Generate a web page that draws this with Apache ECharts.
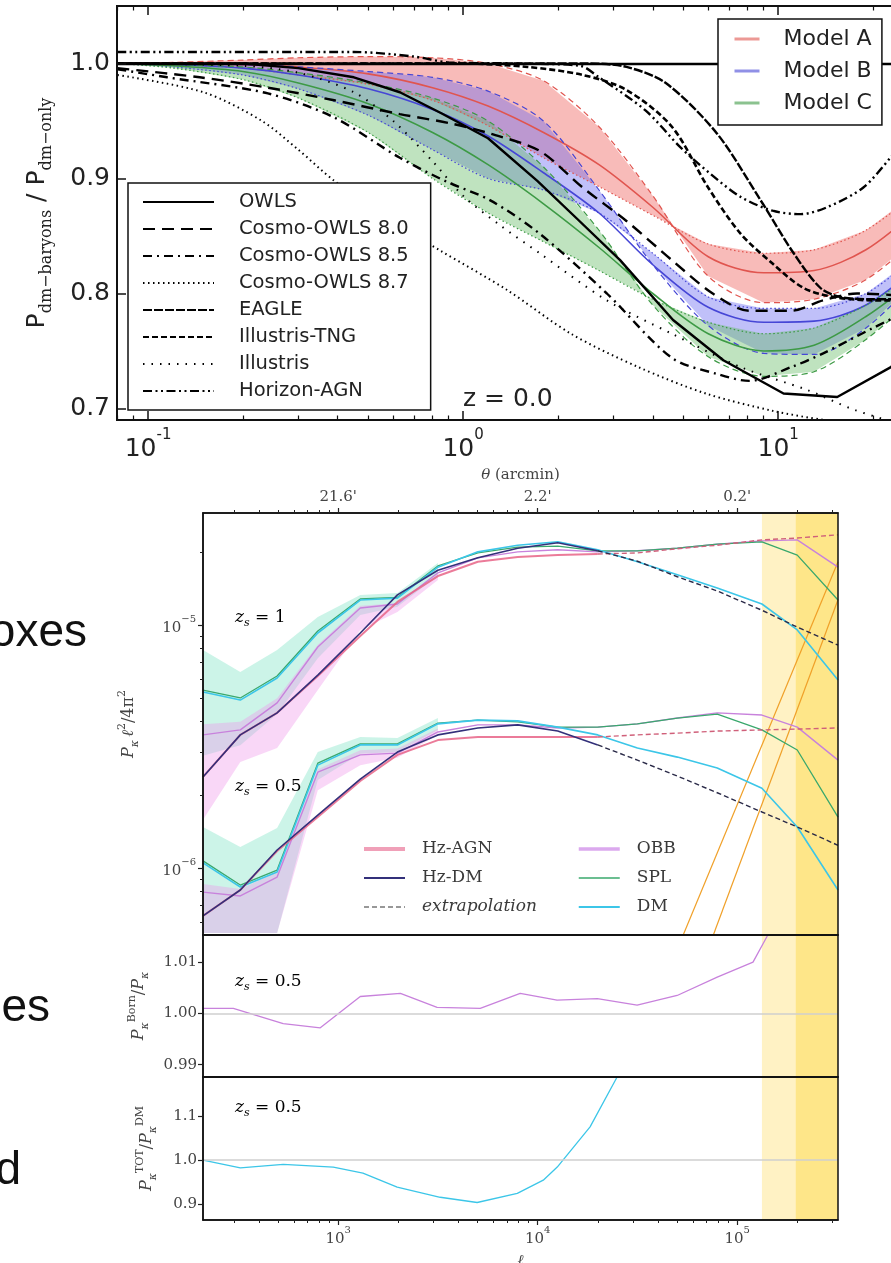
<!DOCTYPE html>
<html><head><meta charset="utf-8">
<script src="https://cdn.jsdelivr.net/npm/echarts@6/dist/echarts.min.js"></script>
<style>html,body{margin:0;padding:0;background:#fff;}#chart{width:891px;height:1263px;}</style>
</head><body><div id="chart"></div>
<script>
// ---------------- TOP CHART DATA (theta in arcmin, ratio) ----------------
const owlsTheta = [0.08, 0.2, 0.3, 0.45, 0.63, 0.85, 1.2, 1.72, 2.3, 3.15, 4.64, 6.7, 10.4, 15.4, 22.8, 28.2];
const owlsRatio = [1.0, 1.0, 0.996, 0.988, 0.975, 0.957, 0.935, 0.898, 0.865, 0.829, 0.777, 0.742, 0.713, 0.710, 0.736, 0.76];
const cosmo80Theta = [0.08, 0.146, 0.24, 0.39, 0.63, 0.91, 1.22, 1.75, 2.4, 3.3, 4.6, 6.2, 8.1, 11, 13.9, 17.8, 28.2];
const cosmo80Ratio = [0.996, 0.988, 0.979, 0.968, 0.956, 0.948, 0.939, 0.924, 0.892, 0.863, 0.829, 0.80, 0.785, 0.785, 0.794, 0.80, 0.797];
const cosmo85Theta = [0.08, 0.115, 0.24, 0.39, 0.63, 0.89, 1.22, 1.75, 2.86, 4.6, 6.4, 8.1, 11, 13.9, 20, 28.2];
const cosmo85Ratio = [0.995, 0.988, 0.974, 0.953, 0.918, 0.897, 0.881, 0.852, 0.80, 0.744, 0.73, 0.724, 0.736, 0.748, 0.77, 0.79];
const cosmo87Theta = [0.08, 0.15, 0.23, 0.3, 0.39, 0.6, 0.85, 1.38, 2.2, 3.6, 5.9, 9.6, 14, 20, 28.2];
const cosmo87Ratio = [0.99, 0.975, 0.95, 0.925, 0.898, 0.862, 0.837, 0.803, 0.765, 0.736, 0.713, 0.698, 0.69, 0.685, 0.68];
const eagleTheta = [0.08, 1.0, 2.5, 3.3, 4.4, 6.4, 8.8, 11.2, 13.6, 15.7, 20, 28.2];
const eagleRatio = [1.0, 1.0, 1.0, 0.997, 0.983, 0.939, 0.881, 0.835, 0.805, 0.797, 0.795, 0.795];
const tngTheta = [0.08, 1.0, 1.6, 2.4, 3.3, 4.6, 6.0, 7.6, 9.6, 12, 15, 20, 28.2];
const tngRatio = [1.0, 1.0, 0.997, 0.99, 0.977, 0.945, 0.892, 0.852, 0.826, 0.805, 0.797, 0.794, 0.794];
const illTheta = [0.08, 0.2, 0.3, 0.45, 0.6, 0.8, 1.0, 1.3, 1.75, 2.86, 4.6, 7.6, 12.4, 17, 22];
const illRatio = [1.0, 0.998, 0.992, 0.975, 0.95, 0.915, 0.885, 0.86, 0.835, 0.794, 0.765, 0.736, 0.716, 0.70, 0.69];
const horizonTheta = [0.08, 0.45, 0.7, 0.9, 1.5, 2.35, 2.7, 3.8, 4.9, 6.1, 7.6, 9.6, 11.8, 14.3, 18.6, 22.7, 28.2];
const horizonRatio = [1.01, 1.01, 1.006, 1.001, 1.0, 0.998, 0.988, 0.959, 0.927, 0.904, 0.884, 0.872, 0.869, 0.875, 0.892, 0.918, 0.95];

const modelTheta = [0.08, 0.12, 0.2, 0.3, 0.5, 0.8, 1.2, 1.8, 2.7, 4, 6, 9, 13, 19, 28.2];
const modelAMedian = [1.0, 1.0, 0.999, 0.997, 0.991, 0.979, 0.963, 0.94, 0.912, 0.875, 0.832, 0.818, 0.82, 0.838, 0.875];
const modelADashed = [1.0, 1.001, 1.003, 1.005, 1.006, 1.005, 1.0, 0.985, 0.945, 0.885, 0.815, 0.792, 0.795, 0.812, 0.85];
const modelADotted = [1.0, 0.999, 0.996, 0.99, 0.982, 0.968, 0.946, 0.918, 0.893, 0.868, 0.843, 0.835, 0.838, 0.855, 0.89];
const modelBMedian = [1.0, 0.999, 0.996, 0.99, 0.978, 0.96, 0.937, 0.905, 0.87, 0.825, 0.788, 0.775, 0.776, 0.79, 0.825];
const modelBDashed = [1.0, 1.0, 0.999, 0.997, 0.993, 0.988, 0.976, 0.95, 0.89, 0.825, 0.772, 0.748, 0.747, 0.77, 0.815];
const modelBDotted = [1.0, 0.997, 0.99, 0.978, 0.955, 0.925, 0.9, 0.89, 0.87, 0.835, 0.797, 0.787, 0.787, 0.80, 0.835];
const modelCMedian = [1.0, 0.998, 0.993, 0.983, 0.965, 0.94, 0.912, 0.878, 0.84, 0.80, 0.765, 0.75, 0.755, 0.78, 0.815];
const modelCDashed = [1.0, 0.999, 0.997, 0.992, 0.983, 0.97, 0.95, 0.91, 0.855, 0.79, 0.745, 0.728, 0.732, 0.76, 0.8];
const modelCDotted = [1.0, 0.996, 0.986, 0.97, 0.94, 0.9, 0.87, 0.845, 0.82, 0.795, 0.775, 0.765, 0.77, 0.79, 0.82];

const topMajorTicks = [0.1, 1, 10];
const topMinorTicks = [0.08, 0.09, 0.2, 0.3, 0.4, 0.5, 0.6, 0.7, 0.8, 0.9, 2, 3, 4, 5, 6, 7, 8, 9, 20];
const ratioTicks = [0.7, 0.8, 0.9, 1.0];

// ---------------- BOTTOM CHART DATA (ell, P_kappa ell^2/4pi^2) ----------------
const ellGrid = [210, 323, 494, 790, 1290, 1980, 3160, 5010, 7940, 12600, 20000, 31600, 50100, 79400, 133000, 200000, 320000];
const hzDM1 = [2.37e-6, 3.53e-6, 4.35e-6, 6.22e-6, 9.27e-6, 1.33e-5, 1.68e-5, 1.89e-5, 2.07e-5, 2.18e-5, 2.02e-5, 1.83e-5, 1.58e-5, 1.38e-5, 1.15e-5, 9.8e-6, 8.27e-6];
const hzAGN1 = [2.37e-6, 3.53e-6, 4.35e-6, 6.17e-6, 9.01e-6, 1.244e-5, 1.59e-5, 1.82e-5, 1.905e-5, 1.94e-5, 1.96e-5, 1.98e-5, 2.06e-5, 2.13e-5, 2.24e-5, 2.28e-5, 2.35e-5];
const dm1 = [5.30e-6, 4.91e-6, 6.05e-6, 9.27e-6, 1.267e-5, 1.29e-5, 1.73e-5, 2.00e-5, 2.13e-5, 2.20e-5, 2.04e-5, 1.82e-5, 1.61e-5, 1.42e-5, 1.22e-5, 9.54e-6, 5.94e-6];
const spl1 = [5.40e-6, 5.01e-6, 6.17e-6, 9.45e-6, 1.28e-5, 1.30e-5, 1.75e-5, 1.98e-5, 2.09e-5, 2.11e-5, 2.02e-5, 2.02e-5, 2.07e-5, 2.15e-5, 2.20e-5, 1.94e-5, 1.267e-5];
const obb1 = [3.53e-6, 3.70e-6, 4.78e-6, 8.12e-6, 1.175e-5, 1.22e-5, 1.64e-5, 1.89e-5, 2.00e-5, 2.04e-5, 2.00e-5, 2.02e-5, 2.07e-5, 2.15e-5, 2.22e-5, 2.24e-5, 1.73e-5];
const hzDM05 = [6.35e-7, 8.12e-7, 1.186e-6, 1.65e-6, 2.32e-6, 3.00e-6, 3.53e-6, 3.77e-6, 3.88e-6, 3.66e-6, 3.21e-6, 2.78e-6, 2.39e-6, 2.04e-6, 1.70e-6, 1.475e-6, 1.24e-6];
const hzAGN05 = [6.35e-7, 8.12e-7, 1.175e-6, 1.62e-6, 2.28e-6, 2.92e-6, 3.36e-6, 3.46e-6, 3.46e-6, 3.46e-6, 3.46e-6, 3.53e-6, 3.59e-6, 3.66e-6, 3.70e-6, 3.73e-6, 3.77e-6];
const dm05 = [1.05e-6, 8.35e-7, 9.63e-7, 2.65e-6, 3.21e-6, 3.21e-6, 3.92e-6, 4.06e-6, 4.03e-6, 3.80e-6, 3.53e-6, 3.12e-6, 2.86e-6, 2.58e-6, 2.13e-6, 1.475e-6, 8.12e-7];
const spl05 = [1.07e-6, 8.51e-7, 9.81e-7, 2.70e-6, 3.24e-6, 3.24e-6, 3.95e-6, 4.06e-6, 3.99e-6, 3.80e-6, 3.80e-6, 3.92e-6, 4.14e-6, 4.30e-6, 3.70e-6, 3.06e-6, 1.62e-6];
const obb05 = [7.96e-7, 7.67e-7, 9.18e-7, 2.48e-6, 2.92e-6, 2.97e-6, 3.63e-6, 3.88e-6, 3.88e-6, 3.77e-6, 3.80e-6, 3.92e-6, 4.14e-6, 4.35e-6, 4.26e-6, 3.80e-6, 2.78e-6];
const extrapStart = 10; // index from which Hz curves are extrapolated

const bandEll = [210, 323, 494, 790, 1290, 1980, 3160];
const mintUpper1 = [7.89e-6, 6.41e-6, 7.89e-6, 1.08e-5, 1.33e-5, 1.355e-5, 1.80e-5];
const mintLower1 = [2.9e-6, 3.2e-6, 4.3e-6, 7.3e-6, 1.1e-5, 1.19e-5, 1.6e-5];
const pinkUpper1 = [3.9e-6, 4.0e-6, 5.0e-6, 8.3e-6, 1.2e-5, 1.23e-5, 1.65e-5];
const pinkLower1 = [1.58e-6, 2.73e-6, 3.12e-6, 5.40e-6, 9.54e-6, 1.13e-5, 1.53e-5];
const mintUpper05 = [1.475e-6, 1.22e-6, 1.46e-6, 3.00e-6, 3.46e-6, 3.43e-6, 4.14e-6];
const mintLower05 = [5.4e-7, 5.4e-7, 5.4e-7, 2.30e-6, 2.95e-6, 3.0e-6, 3.7e-6];
const pinkUpper05 = [8.6e-7, 8.2e-7, 9.6e-7, 2.55e-6, 3.05e-6, 3.1e-6, 3.75e-6];
const pinkLower05 = [5.4e-7, 5.4e-7, 5.4e-7, 2.09e-6, 2.65e-6, 2.84e-6, 3.53e-6];

const orangeEll1 = [53600, 320000];
const orangeP1 = [5.3e-7, 1.82e-5];
const orangeEll2 = [75900, 320000];
const orangeP2 = [5.3e-7, 1.27e-5];

const bornEll = [210, 298, 530, 813, 1290, 2050, 3130, 5150, 8170, 12500, 19900, 31500, 50000, 79400, 120000, 141000, 184000];
const bornRatio = [1.0010, 1.0010, 0.9980, 0.9972, 1.0033, 1.0039, 1.0012, 1.0010, 1.0039, 1.0026, 1.0029, 1.0016, 1.0035, 1.0071, 1.0100, 1.0150, 1.0300];
const totEll = [210, 323, 530, 945, 1330, 1975, 3245, 4970, 7900, 10660, 12530, 18300, 25000];
const totRatio = [1.0, 0.982, 0.99, 0.984, 0.970, 0.938, 0.915, 0.903, 0.924, 0.954, 0.984, 1.076, 1.19];

const yellowLight = [133000, 196000];
const yellowDark = [196000, 320000];

const ellMajorTicks = [1000, 10000, 100000];
const ellMinorTicks = [300, 400, 500, 600, 700, 800, 900, 2000, 3000, 4000, 5000, 6000, 7000, 8000, 9000, 20000, 30000, 40000, 50000, 60000, 70000, 80000, 90000, 200000, 300000];
const ellTopLabels = ["21.6'", "2.2'", "0.2'"];
const powerMajorTicks = [1e-6, 1e-5];
const powerMinorTicks = [6e-7, 7e-7, 8e-7, 9e-7, 2e-6, 3e-6, 4e-6, 5e-6, 6e-6, 7e-6, 8e-6, 9e-6, 2e-5];
const bornTicks = [0.99, 1.00, 1.01];
const totTicks = [0.9, 1.0, 1.1];

// ---------------- helpers ----------------
const SANS = 'DejaVu Sans';
const SERIF = 'DejaVu Serif';
function pairs(xs, ys) { return xs.map((x, i) => [x, ys[i]]); }
function band(xi, yi, xs, up, lo, color) {
  return {
    type: 'custom', xAxisIndex: xi, yAxisIndex: yi, clip: true, silent: true, z: 1,
    data: [[xs[0], up[0]]],
    renderItem: function (params, api) {
      const pts = [];
      for (let i = 0; i < xs.length; i++) pts.push(api.coord([xs[i], up[i]]));
      for (let i = xs.length - 1; i >= 0; i--) pts.push(api.coord([xs[i], lo[i]]));
      return { type: 'polygon', shape: { points: pts }, style: { fill: color } };
    }
  };
}
function simLine(name, xs, ys, dash, width, smooth) {
  return { name: name, type: 'line', xAxisIndex: 0, yAxisIndex: 0, data: pairs(xs, ys), symbol: 'none',
    smooth: smooth === undefined ? 0.3 : smooth, silent: true, z: 4,
    itemStyle: { color: '#000' },
    lineStyle: { color: '#000', width: width || 2.4, type: dash } };
}
function modelLine(name, ys, color, dash, width, z) {
  return { name: name, type: 'line', xAxisIndex: 0, yAxisIndex: 0, data: pairs(modelTheta, ys), symbol: 'none',
    smooth: 0.3, silent: true, z: z || 3, itemStyle: { color: color }, lineStyle: { color: color, width: width, type: dash } };
}
function bLine(name, xs, ys, color, width, dash, xi, yi, z) {
  return { name: name, type: 'line', xAxisIndex: xi, yAxisIndex: yi, data: pairs(xs, ys), symbol: 'none',
    silent: true, z: z || 3, itemStyle: { color: color }, lineStyle: { color: color, width: width, type: dash || 'solid' } };
}
function pow10Top(v) { const e = Math.round(Math.log10(v)); return '{b|10}{s|' + (e < 0 ? '-' + (-e) : e) + '}'; }
function pow10Bot(v) { const e = Math.round(Math.log10(v)); return '{b|10}{s|' + (e < 0 ? '\u2212' + (-e) : e) + '}'; }

const topRich = { b: { fontFamily: SANS, fontSize: 25, color: '#222', lineHeight: 34, verticalAlign: 'bottom' },
                  s: { fontFamily: SANS, fontSize: 15, color: '#222', lineHeight: 12, verticalAlign: 'top' } };
const botRich = { b: { fontFamily: SERIF, fontSize: 15, color: '#444', lineHeight: 22, verticalAlign: 'bottom' },
                  s: { fontFamily: SERIF, fontSize: 10, color: '#444', lineHeight: 8, verticalAlign: 'top' } };
const nameRich = {
  i: { fontFamily: SERIF, fontStyle: 'italic', fontSize: 16, color: '#444', lineHeight: 24 },
  n: { fontFamily: SERIF, fontSize: 16, color: '#444', lineHeight: 24 },
  sub: { fontFamily: SERIF, fontStyle: 'italic', fontSize: 11, color: '#444', lineHeight: 10, verticalAlign: 'bottom' },
  sup: { fontFamily: SERIF, fontSize: 11, color: '#444', lineHeight: 10, verticalAlign: 'top' }
};
const thetaNameRich = {
  i: { fontFamily: SERIF, fontStyle: 'italic', fontSize: 15, color: '#444', lineHeight: 16 },
  n: { fontFamily: SERIF, fontSize: 15, color: '#444', lineHeight: 16 }
};

const thetaMin = 0.0797, thetaMax = 28.2;
const ellMin = 210, ellMax = 320000;
const pMin = 5.3e-7, pMax = 2.89e-5;

const blk = { color: '#111', width: 2 };
const blkB = { color: '#111', width: 1.5 };

const xAxes = [
  // 0: top chart bottom (major + labels)
  { gridIndex: 0, type: 'log', min: thetaMin, max: thetaMax, position: 'bottom', z: 10,
    axisLine: { show: true, onZero: false, lineStyle: blk },
    axisTick: { show: true, inside: true, length: 9, lineStyle: { color: '#111', width: 1.5 }, customValues: topMajorTicks },
    axisLabel: { show: true, customValues: topMajorTicks, margin: 8, formatter: pow10Top, rich: topRich },
    splitLine: { show: false } },
  // 1: top chart bottom minor
  { gridIndex: 0, type: 'log', min: thetaMin, max: thetaMax, position: 'bottom', z: 10,
    axisLine: { show: false }, axisTick: { show: true, inside: true, length: 4.5, lineStyle: { color: '#111', width: 1.2 }, customValues: topMinorTicks },
    axisLabel: { show: false }, splitLine: { show: false } },
  // 2: top chart top major
  { gridIndex: 0, type: 'log', min: thetaMin, max: thetaMax, position: 'top', z: 10,
    axisLine: { show: true, onZero: false, lineStyle: blk },
    axisTick: { show: true, inside: true, length: 9, lineStyle: { color: '#111', width: 1.5 }, customValues: topMajorTicks },
    axisLabel: { show: false }, splitLine: { show: false } },
  // 3: top chart top minor
  { gridIndex: 0, type: 'log', min: thetaMin, max: thetaMax, position: 'top', z: 10,
    axisLine: { show: false }, axisTick: { show: true, inside: true, length: 4.5, lineStyle: { color: '#111', width: 1.2 }, customValues: topMinorTicks },
    axisLabel: { show: false }, splitLine: { show: false } },
  // 4: main panel bottom (data)
  { gridIndex: 1, type: 'log', min: ellMin, max: ellMax, position: 'bottom', z: 10,
    axisLine: { show: true, onZero: false, lineStyle: blkB }, axisTick: { show: false }, axisLabel: { show: false }, splitLine: { show: false } },
  // 5: main panel top major with labels
  { gridIndex: 1, type: 'log', min: ellMin, max: ellMax, position: 'top', z: 10,
    name: '{i|\u03b8}{n| (arcmin)}', nameLocation: 'middle', nameGap: 30,
    nameTextStyle: { rich: thetaNameRich },
    axisLine: { show: true, onZero: false, lineStyle: blkB },
    axisTick: { show: true, length: 5, lineStyle: { color: '#222', width: 1.2 }, customValues: ellMajorTicks },
    axisLabel: { show: true, customValues: ellMajorTicks, margin: 8, fontFamily: SERIF, fontSize: 15, color: '#444',
      formatter: function (v) { return ellTopLabels[Math.round(Math.log10(v)) - 3]; } },
    splitLine: { show: false } },
  // 6: main panel top minor
  { gridIndex: 1, type: 'log', min: ellMin, max: ellMax, position: 'top', z: 10,
    axisLine: { show: false }, axisTick: { show: true, length: 3, lineStyle: { color: '#222', width: 1 }, customValues: ellMinorTicks },
    axisLabel: { show: false }, splitLine: { show: false } },
  // 7: panel 2 bottom (data)
  { gridIndex: 2, type: 'log', min: ellMin, max: ellMax, position: 'bottom', z: 10,
    axisLine: { show: true, onZero: false, lineStyle: blkB }, axisTick: { show: false }, axisLabel: { show: false }, splitLine: { show: false } },
  // 8: panel 3 bottom major with labels (data)
  { gridIndex: 3, type: 'log', min: ellMin, max: ellMax, position: 'bottom', z: 10,
    name: '\u2113', nameLocation: 'middle', nameGap: 34,
    nameTextStyle: { fontFamily: SERIF, fontStyle: 'italic', fontSize: 15, color: '#444' },
    axisLine: { show: true, onZero: false, lineStyle: blkB },
    axisTick: { show: true, length: 5, lineStyle: { color: '#222', width: 1.2 }, customValues: ellMajorTicks },
    axisLabel: { show: true, customValues: ellMajorTicks, margin: 5, formatter: pow10Bot, rich: botRich },
    splitLine: { show: false } },
  // 9: panel 3 bottom minor
  { gridIndex: 3, type: 'log', min: ellMin, max: ellMax, position: 'bottom', z: 10,
    axisLine: { show: false }, axisTick: { show: true, length: 3, lineStyle: { color: '#222', width: 1 }, customValues: ellMinorTicks },
    axisLabel: { show: false }, splitLine: { show: false } }
];

const yAxes = [
  // 0: top chart
  { gridIndex: 0, type: 'value', min: 0.69, max: 1.05, position: 'left', z: 10,
    name: '{p|P}{sub|dm\u2212baryons}{p| / P}{sub|dm\u2212only}', nameLocation: 'middle', nameGap: 62,
    nameTextStyle: { rich: {
      p: { fontFamily: SANS, fontSize: 25, color: '#222', lineHeight: 30, verticalAlign: 'top' },
      sub: { fontFamily: SERIF, fontSize: 16, color: '#222', lineHeight: 14, verticalAlign: 'bottom' } } },
    axisLine: { show: true, onZero: false, lineStyle: blk },
    axisTick: { show: true, inside: true, length: 9, lineStyle: { color: '#111', width: 1.5 }, customValues: ratioTicks },
    axisLabel: { show: true, customValues: ratioTicks, margin: 7, fontFamily: SANS, fontSize: 25, color: '#222',
      formatter: function (v) { return v.toFixed(1); } },
    splitLine: { show: false } },
  // 1: main panel log major
  { gridIndex: 1, type: 'log', min: pMin, max: pMax, position: 'left', z: 10,
    name: '{i|P}{sub|\u03ba} {i|\u2113}{sup|2}{n|/4\u03c0}{sup|2}', nameLocation: 'middle', nameGap: 62,
    nameTextStyle: { rich: nameRich },
    axisLine: { show: true, onZero: false, lineStyle: blkB },
    axisTick: { show: true, length: 5, lineStyle: { color: '#222', width: 1.2 }, customValues: powerMajorTicks },
    axisLabel: { show: true, customValues: powerMajorTicks, margin: 7, formatter: pow10Bot, rich: botRich },
    splitLine: { show: false } },
  // 2: main panel log minor
  { gridIndex: 1, type: 'log', min: pMin, max: pMax, position: 'left', z: 10,
    axisLine: { show: false }, axisTick: { show: true, length: 3, lineStyle: { color: '#222', width: 1 }, customValues: powerMinorTicks },
    axisLabel: { show: false }, splitLine: { show: false } },
  // 3: panel 2
  { gridIndex: 2, type: 'value', min: 0.9876, max: 1.0153, position: 'left', z: 10,
    name: '{i|P}{sub|\u03ba}{sup|Born}{n|/}{i|P}{sub|\u03ba}', nameLocation: 'middle', nameGap: 52,
    nameTextStyle: { rich: nameRich },
    axisLine: { show: true, onZero: false, lineStyle: blkB },
    axisTick: { show: true, length: 5, lineStyle: { color: '#222', width: 1.2 }, customValues: bornTicks },
    axisLabel: { show: true, customValues: bornTicks, margin: 6, fontFamily: SERIF, fontSize: 15, color: '#444',
      formatter: function (v) { return v.toFixed(2); } },
    splitLine: { show: false } },
  // 4: panel 3
  { gridIndex: 3, type: 'value', min: 0.863, max: 1.19, position: 'left', z: 10,
    name: '{i|P}{sub|\u03ba}{sup|TOT}{n|/}{i|P}{sub|\u03ba}{sup|DM}', nameLocation: 'middle', nameGap: 44,
    nameTextStyle: { rich: nameRich },
    axisLine: { show: true, onZero: false, lineStyle: blkB },
    axisTick: { show: true, length: 5, lineStyle: { color: '#222', width: 1.2 }, customValues: totTicks },
    axisLabel: { show: true, customValues: totTicks, margin: 6, fontFamily: SERIF, fontSize: 15, color: '#444',
      formatter: function (v) { return v.toFixed(1); } },
    splitLine: { show: false } }
];

// ---------------- series ----------------
const series = [];
series.push(band(0, 0, modelTheta, modelADashed, modelADotted, 'rgba(240,105,100,0.45)'));
series.push(band(0, 0, modelTheta, modelBDashed, modelBDotted, 'rgba(105,105,240,0.42)'));
series.push(band(0, 0, modelTheta, modelCDashed, modelCDotted, 'rgba(95,185,95,0.40)'));
const cA = '#e0554f', cB = '#4646d6', cC = '#3d9a45';
series.push(modelLine('Model A', modelAMedian, cA, 'solid', 1.6));
series.push(modelLine('Model A up', modelADashed, cA, [6, 4], 1.2));
series.push(modelLine('Model A lo', modelADotted, cA, [1.5, 2.5], 1.2));
series.push(modelLine('Model B', modelBMedian, cB, 'solid', 1.6));
series.push(modelLine('Model B up', modelBDashed, cB, [6, 4], 1.2));
series.push(modelLine('Model B lo', modelBDotted, cB, [1.5, 2.5], 1.2));
series.push(modelLine('Model C', modelCMedian, cC, 'solid', 1.6));
series.push(modelLine('Model C up', modelCDashed, cC, [6, 4], 1.2));
series.push(modelLine('Model C lo', modelCDotted, cC, [1.5, 2.5], 1.2));
const owls = simLine('OWLS', owlsTheta, owlsRatio, 'solid', 2.4, false);
owls.markLine = { symbol: ['none', 'none'], silent: true, label: { show: false },
  lineStyle: { color: '#000', width: 2.4, type: 'solid' }, data: [{ yAxis: 1.0 }] };
series.push(owls);
series.push(simLine('Cosmo-OWLS 8.0', cosmo80Theta, cosmo80Ratio, [12, 7], 2.4));
series.push(simLine('Cosmo-OWLS 8.5', cosmo85Theta, cosmo85Ratio, [9, 5, 2, 5], 2.4));
series.push(simLine('Cosmo-OWLS 8.7', cosmo87Theta, cosmo87Ratio, [1.5, 3.5], 2));
series.push(simLine('EAGLE', eagleTheta, eagleRatio, [9, 2], 2.4));
series.push(simLine('Illustris-TNG', tngTheta, tngRatio, [6, 3], 2.6));
series.push(simLine('Illustris', illTheta, illRatio, [1.5, 7], 2));
series.push(simLine('Horizon-AGN', horizonTheta, horizonRatio, [9, 3.5, 2, 3.5, 2, 3.5], 2.4));

function yellowCarrier(xi, yi, yv) {
  return { type: 'line', xAxisIndex: xi, yAxisIndex: yi, data: [[1000, yv]], symbol: 'none', silent: true, z: 0,
    lineStyle: { width: 0 },
    markArea: { silent: true, itemStyle: { opacity: 1 }, data: [
      [{ xAxis: yellowLight[0], itemStyle: { color: '#fff2c4' } }, { xAxis: yellowLight[1] }],
      [{ xAxis: yellowDark[0], itemStyle: { color: '#fee689' } }, { xAxis: yellowDark[1] }]
    ] } };
}
series.push(yellowCarrier(4, 1, 1e-6));
series.push(yellowCarrier(7, 3, 1.0));
series.push(yellowCarrier(8, 4, 1.0));

series.push(band(4, 1, bandEll, mintUpper1, mintLower1, 'rgba(120,225,195,0.38)'));
series.push(band(4, 1, bandEll, pinkUpper1, pinkLower1, 'rgba(240,150,235,0.38)'));
series.push(band(4, 1, bandEll, mintUpper05, mintLower05, 'rgba(120,225,195,0.38)'));
series.push(band(4, 1, bandEll, pinkUpper05, pinkLower05, 'rgba(240,150,235,0.38)'));

const colAGN = 'rgba(232,100,135,0.85)', colDM = '#33307a', colOBB = '#c882dc', colSPL = '#3aa86d', colDMsim = '#3cc6e8';
function hzPair(name, ys, color, width, extrapColor) {
  series.push(bLine(name, ellGrid.slice(0, extrapStart + 1), ys.slice(0, extrapStart + 1), color, width, 'solid', 4, 1, 5));
  series.push(bLine('extrapolation', ellGrid.slice(extrapStart), ys.slice(extrapStart), extrapColor, 1.4, [5, 3], 4, 1, 5));
}
series.push(bLine('OBB', ellGrid, obb1, colOBB, 1.4, 'solid', 4, 1, 3));
series.push(bLine('OBB', ellGrid, obb05, colOBB, 1.4, 'solid', 4, 1, 3));
series.push(bLine('SPL', ellGrid, spl1, colSPL, 1.3, 'solid', 4, 1, 3));
series.push(bLine('SPL', ellGrid, spl05, colSPL, 1.3, 'solid', 4, 1, 3));
series.push(bLine('DM', ellGrid, dm1, colDMsim, 1.6, 'solid', 4, 1, 4));
series.push(bLine('DM', ellGrid, dm05, colDMsim, 1.6, 'solid', 4, 1, 4));
hzPair('Hz-AGN', hzAGN1, colAGN, 2, '#d0607a');
hzPair('Hz-AGN', hzAGN05, colAGN, 2, '#d0607a');
hzPair('Hz-DM', hzDM1, colDM, 1.6, '#2a2a48');
hzPair('Hz-DM', hzDM05, colDM, 1.6, '#2a2a48');
series.push(bLine('orange1', orangeEll1, orangeP1, '#f0a028', 1.2, 'solid', 4, 1, 2));
series.push(bLine('orange2', orangeEll2, orangeP2, '#f0a028', 1.2, 'solid', 4, 1, 2));

const born = bLine('Born', bornEll, bornRatio, '#c882dc', 1.3, 'solid', 7, 3, 4);
born.markLine = { symbol: ['none', 'none'], silent: true, label: { show: false }, lineStyle: { color: '#cfcfcf', width: 1.5, type: 'solid' }, data: [{ yAxis: 1.0 }] };
series.push(born);
const tot = bLine('TOT', totEll, totRatio, '#3cc6e8', 1.3, 'solid', 8, 4, 4);
tot.markLine = { symbol: ['none', 'none'], silent: true, label: { show: false }, lineStyle: { color: '#cfcfcf', width: 1.5, type: 'solid' }, data: [{ yAxis: 1.0 }] };
series.push(tot);

// ---------------- legends ----------------
const hideSym = { color: 'rgba(0,0,0,0)', borderWidth: 0, opacity: 0 };
const legends = [
  { data: ['OWLS', 'Cosmo-OWLS 8.0', 'Cosmo-OWLS 8.5', 'Cosmo-OWLS 8.7', 'EAGLE', 'Illustris-TNG', 'Illustris', 'Horizon-AGN'],
    orient: 'vertical', left: 128, top: 183, itemWidth: 71, itemHeight: 20, itemGap: 7,
    padding: [9, 22, 9, 14], backgroundColor: '#fff', borderColor: '#111', borderWidth: 1.5, borderRadius: 0,
    selectedMode: false, z: 10, itemStyle: hideSym,
    textStyle: { fontFamily: SANS, fontSize: 19.5, color: '#222', padding: [0, 0, 0, 20], lineHeight: 20 } },
  { data: [{ name: 'Model A', lineStyle: { width: 3, opacity: 0.6 } }, { name: 'Model B', lineStyle: { width: 3, opacity: 0.6 } }, { name: 'Model C', lineStyle: { width: 3, opacity: 0.6 } }],
    orient: 'vertical', left: 718, top: 19, itemWidth: 25, itemHeight: 20, itemGap: 10,
    padding: [9, 10, 11, 15], backgroundColor: '#fff', borderColor: '#111', borderWidth: 1.5, borderRadius: 0,
    selectedMode: false, z: 10, itemStyle: hideSym,
    textStyle: { fontFamily: SANS, fontSize: 22, color: '#222', padding: [0, 0, 0, 19], lineHeight: 20 } },
  { data: [{ name: 'Hz-AGN', lineStyle: { width: 4, color: '#f0a0b8' } }, { name: 'Hz-DM', lineStyle: { width: 1.8 } },
           { name: 'extrapolation', lineStyle: { color: '#777', width: 1.4 }, textStyle: { fontStyle: 'italic' } }],
    orient: 'vertical', left: 362, top: 839, itemWidth: 41, itemHeight: 20, itemGap: 9, padding: 0,
    selectedMode: false, z: 10, itemStyle: hideSym,
    textStyle: { fontFamily: SERIF, fontSize: 17, color: '#3a3a3a', padding: [0, 0, 0, 12], lineHeight: 20 } },
  { data: [{ name: 'OBB', lineStyle: { width: 3.5, color: '#dba9ee' } }, { name: 'SPL', lineStyle: { width: 1.4 } }, { name: 'DM', lineStyle: { width: 1.8 } }],
    orient: 'vertical', left: 577, top: 839, itemWidth: 41, itemHeight: 20, itemGap: 9, padding: 0,
    selectedMode: false, z: 10, itemStyle: hideSym,
    textStyle: { fontFamily: SERIF, fontSize: 17, color: '#3a3a3a', padding: [0, 0, 0, 12], lineHeight: 20 } }
];

// ---------------- annotations ----------------
const zsRich = {
  i: { fontFamily: SERIF, fontStyle: 'italic', fontSize: 17, color: '#444', lineHeight: 22 },
  s: { fontFamily: SERIF, fontStyle: 'italic', fontSize: 11, color: '#444', lineHeight: 10, verticalAlign: 'bottom' },
  n: { fontFamily: SERIF, fontSize: 17, color: '#444', lineHeight: 22 }
};
function zsText(x, y, val) {
  return { type: 'text', x: x, y: y, z: 20, silent: true,
    style: { text: '{i|z}{s|s}{n| = ' + val + '}', rich: zsRich, align: 'left', verticalAlign: 'middle' } };
}
const graphics = [
  { type: 'text', x: 463, y: 399, z: 20, silent: true, style: { text: 'z = 0.0', fontFamily: SANS, fontSize: 25, fill: '#222', align: 'left', verticalAlign: 'middle' } },
  zsText(235, 618, '1'), zsText(235, 787, '0.5'), zsText(235, 982, '0.5'), zsText(235, 1108, '0.5'),
  { type: 'text', x: 87, y: 633, z: 20, silent: true, style: { text: 'oxes', fontFamily: 'Liberation Sans', fontSize: 46, fill: '#111', align: 'right', verticalAlign: 'middle' } },
  { type: 'text', x: 50, y: 1008, z: 20, silent: true, style: { text: 'es', fontFamily: 'Liberation Sans', fontSize: 46, fill: '#111', align: 'right', verticalAlign: 'middle' } },
  { type: 'text', x: 21, y: 1171, z: 20, silent: true, style: { text: 'd', fontFamily: 'Liberation Sans', fontSize: 46, fill: '#111', align: 'right', verticalAlign: 'middle' } }
];

const option = {
  animation: false,
  backgroundColor: '#fff',
  grid: [
    { left: 117, top: 6, width: 803, height: 414, show: true, z: 10, borderColor: '#111', borderWidth: 2, backgroundColor: 'transparent', containLabel: false, outerBoundsMode: 'none' },
    { left: 203, top: 513, width: 635, height: 422, show: true, z: 10, borderColor: '#111', borderWidth: 1.5, backgroundColor: 'transparent', containLabel: false, outerBoundsMode: 'none' },
    { left: 203, top: 935, width: 635, height: 142, show: true, z: 10, borderColor: '#111', borderWidth: 1.5, backgroundColor: 'transparent', containLabel: false, outerBoundsMode: 'none' },
    { left: 203, top: 1077, width: 635, height: 143, show: true, z: 10, borderColor: '#111', borderWidth: 1.5, backgroundColor: 'transparent', containLabel: false, outerBoundsMode: 'none' }
  ],
  xAxis: xAxes,
  yAxis: yAxes,
  legend: legends,
  series: series,
  graphic: graphics
};

const chart = echarts.init(document.getElementById('chart'), null, { renderer: 'canvas' });
chart.setOption(option);
</script></body></html>
